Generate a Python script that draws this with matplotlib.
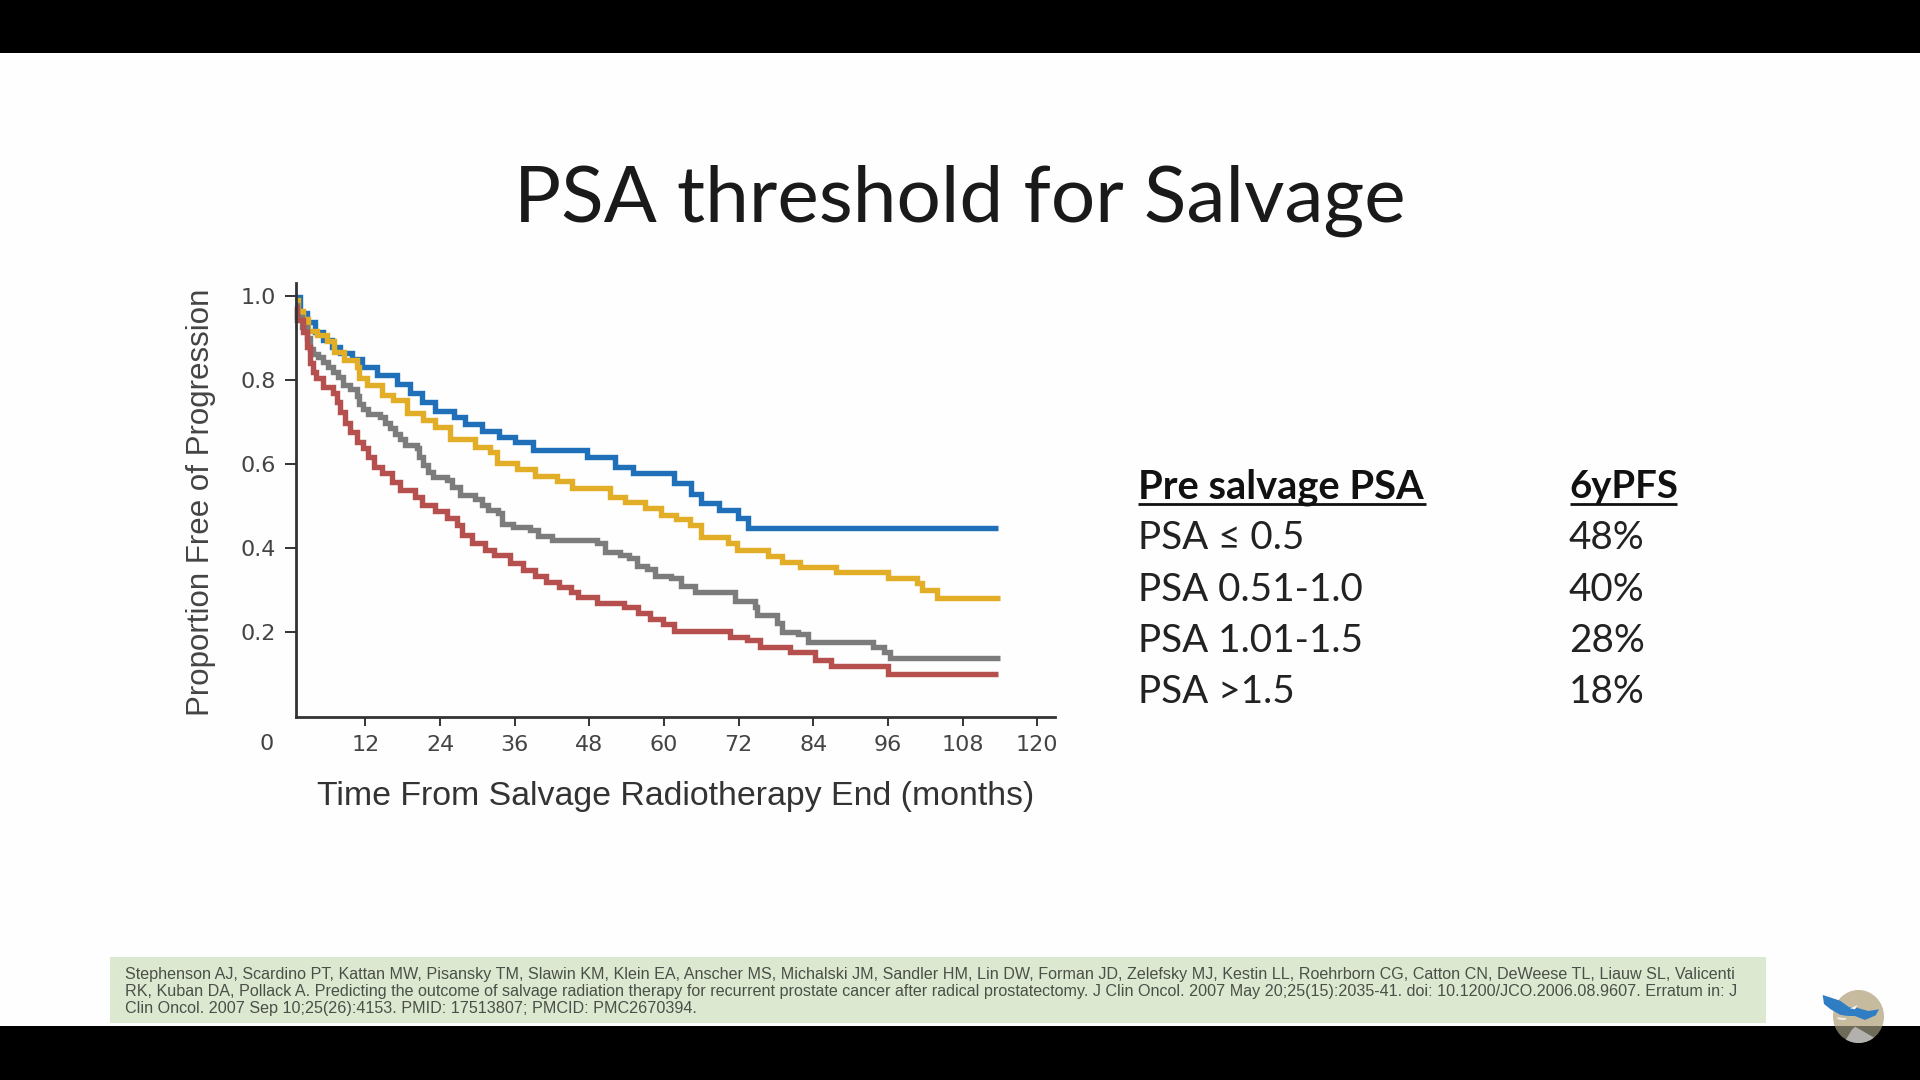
import matplotlib
matplotlib.use("Agg")
import matplotlib.pyplot as plt
from matplotlib.patches import Ellipse, Polygon, Rectangle

# ---------- data (months, proportion free of progression) ----------
blue_t = [0.7,1.5,2.6,3.9,5.25,6.6,7.9,9.8,11.4,13.8,17.1,19.2,21.1,23.2,26.2,28.0,30.7,33.4,36.1,38.9,47.6,52.1,55.07,61.6,64.3,65.95,68.9,71.95,73.45,113.75]
blue_v = [.998,.959,.939,.915,.895,.879,.865,.849,.830,.812,.790,.770,.748,.726,.713,.695,.679,.665,.653,.633,.617,.592,.578,.554,.529,.508,.491,.472,.447,.447]

yellow_t = [0.7,1.2,2.0,2.8,4.2,5.8,6.9,8.5,10.6,10.9,12.2,14.6,16.5,18.65,21.3,23.2,25.6,29.6,32.0,33.1,36.3,39.3,42.8,45.2,51.3,53.7,56.95,59.5,61.9,64.2,65.95,70.35,71.8,76.8,78.9,81.9,87.65,96.05,100.6,101.4,103.95,114.0]
yellow_v = [.99,.965,.945,.917,.906,.893,.866,.847,.832,.804,.788,.764,.752,.722,.705,.689,.659,.641,.628,.603,.589,.572,.560,.542,.522,.509,.495,.479,.469,.455,.427,.411,.395,.381,.367,.355,.344,.329,.316,.300,.280,.280]

grey_t = [0.7,1.07,1.77,2.57,3.1,3.64,4.45,5.25,6.06,6.86,7.66,8.36,9.54,10.6,10.99,11.68,12.49,14.36,15.17,15.97,16.77,17.58,18.38,20.26,20.69,21.33,22.13,22.94,25.08,25.88,27.22,29.64,30.71,31.78,33.39,33.92,35.8,38.48,39.82,41.96,49.2,50.54,52.9,54.3,55.6,57.2,58.55,61.2,62.8,65.0,71.4,74.6,74.9,78.1,78.9,81.6,83.2,93.65,95.3,96.3,114.0]
grey_v = [.979,.951,.927,.899,.875,.863,.854,.844,.832,.820,.808,.788,.778,.762,.743,.730,.719,.713,.698,.685,.671,.659,.645,.637,.617,.598,.582,.568,.562,.546,.526,.516,.502,.490,.483,.457,.449,.443,.429,.419,.411,.391,.383,.375,.356,.350,.333,.328,.310,.296,.274,.260,.240,.221,.201,.195,.177,.165,.152,.138,.138]

red_t = [0.7,1.07,2.04,2.66,3.1,3.54,4.07,5.25,6.75,7.4,7.93,8.74,9.54,10.6,11.68,12.49,13.3,14.63,16.24,17.6,20.0,21.06,23.2,25.08,26.7,27.5,29.1,31.2,32.6,35.2,37.3,39.3,41.1,43.2,45.0,46.2,49.2,53.5,55.9,57.75,59.9,61.6,70.6,73.3,75.4,80.25,84.3,86.8,96.05,113.75]
red_v = [.975,.943,.915,.879,.840,.820,.804,.784,.768,.748,.725,.697,.677,.653,.637,.617,.594,.578,.558,.538,.521,.502,.489,.471,.455,.431,.413,.395,.383,.364,.348,.333,.320,.308,.296,.283,.270,.259,.246,.230,.219,.202,.189,.181,.165,.152,.133,.118,.100,.100]

x_ticks = [12,24,36,48,60,72,84,96,108,120]
y_ticks = [0.2,0.4,0.6,0.8,1.0]

title = "PSA threshold for Salvage"
table_header = ["Pre salvage PSA", "6yPFS"]
table_psa = ["PSA \u2264 0.5", "PSA 0.51-1.0", "PSA 1.01-1.5", "PSA >1.5"]
table_pfs = ["48%", "40%", "28%", "18%"]
citation = [
 "Stephenson AJ, Scardino PT, Kattan MW, Pisansky TM, Slawin KM, Klein EA, Anscher MS, Michalski JM, Sandler HM, Lin DW, Forman JD, Zelefsky MJ, Kestin LL, Roehrborn CG, Catton CN, DeWeese TL, Liauw SL, Valicenti",
 "RK, Kuban DA, Pollack A. Predicting the outcome of salvage radiation therapy for recurrent prostate cancer after radical prostatectomy. J Clin Oncol. 2007 May 20;25(15):2035-41. doi: 10.1200/JCO.2006.08.9607. Erratum in: J",
 "Clin Oncol. 2007 Sep 10;25(26):4153. PMID: 17513807; PMCID: PMC2670394.",
]

W, H = 1920, 1080
fig = plt.figure(figsize=(W/100, H/100), dpi=100, facecolor="#FEFEFE")

# slide layer in pixel coordinates
bg = fig.add_axes([0, 0, 1, 1], zorder=0)
bg.set_xlim(0, W); bg.set_ylim(H, 0); bg.axis("off")
bg.add_patch(Rectangle((0, 0), W, 53, color="black", lw=0))
bg.add_patch(Rectangle((0, 1026), W, 54, color="black", lw=0))
bg.add_patch(Rectangle((110, 957), 1656, 66, color="#DCE9D0", lw=0))

bg.text(960, 222, title, family=["Lato", "DejaVu Sans"], fontsize=56.5,
        color="#1A1A1A", ha="center", va="baseline")

CAL = ["Lato", "DejaVu Sans"]
col_x = [1138, 1569]
bg.text(col_x[0], 498, table_header[0], family=CAL, fontweight="bold", fontsize=28.7, color="#111111", va="baseline")
bg.text(col_x[1], 498, table_header[1], family=CAL, fontweight="bold", fontsize=27.5, color="#111111", va="baseline")
bg.plot([1138, 1426], [503.5, 503.5], color="#111111", lw=2, solid_capstyle="butt")
bg.plot([1570, 1677], [503.5, 503.5], color="#111111", lw=2, solid_capstyle="butt")
for i, (a, b) in enumerate(zip(table_psa, table_pfs)):
    y = [549, 601, 652, 703][i]
    bg.text(col_x[0], y, a, family=CAL, fontsize=27.8, color="#222222", va="baseline")
    bg.text(col_x[1], y, b, family=CAL, fontsize=27.8, color="#222222", va="baseline")

for y, line in zip([974.5, 991.5, 1008], citation):
    bg.text(125, y, line, family="Liberation Sans", fontsize=11.6, color="#4A4F48", va="center")

# logo
cx, cy = 1858.5, 1016.5
clip_top = Rectangle((1800, 960), 120, 66, transform=bg.transData)
clip_low = Rectangle((1800, 1026), 120, 40, transform=bg.transData)
e1 = Ellipse((cx, cy), 51, 53, color="#C6BA9F", lw=0); bg.add_patch(e1); e1.set_clip_path(clip_top)
e2 = Ellipse((cx, cy), 51, 53, color="#6E6A58", lw=0); bg.add_patch(e2); e2.set_clip_path(clip_low)
Z = lambda pts: [(1810 + a/3, 980 + b/3) for a, b in pts]
mount = Polygon(Z([(95,200),(125,150),(135,140),(170,160),(205,180),(170,215),(110,215)]), color="#B3B1AD", lw=0)
bg.add_patch(mount)
mount.set_clip_path(Ellipse((cx, cy), 51, 53, transform=bg.transData))
bg.add_patch(Polygon(Z([(38,45),(60,52),(90,62),(118,82),(112,108),(90,104),(62,88),(42,72)]), color="#2F7DC2", lw=0))
bg.add_patch(Polygon(Z([(115,82),(140,83),(175,93),(207,88),(197,106),(165,120),(135,108),(112,108)]), color="#2F7DC2", lw=0))
bg.add_patch(Polygon(Z([(80,112),(110,115),(105,120),(85,118)]), color="#F2F2F2", lw=0))
bg.add_patch(Polygon(Z([(120,85),(143,75),(135,88)]), color="#F2F2F2", lw=0))

# main chart
L, R, T, B = 295.5, 1055.0, 283.0, 716.7
ax = fig.add_axes([L/W, 1-B/H, (R-L)/W, (B-T)/H], zorder=1)
ax.patch.set_alpha(0)
ax.set_xlim(0.76, 122.86)
ax.set_ylim(-0.0017, 1.031)
for s in ("top", "right"):
    ax.spines[s].set_visible(False)
for s in ("left", "bottom"):
    ax.spines[s].set_linewidth(2.0)
    ax.spines[s].set_color("#333333")

for t, v, c in [(blue_t, blue_v, "#1F70B8"), (yellow_t, yellow_v, "#E3AE27"),
                (grey_t, grey_v, "#7C7C7C"), (red_t, red_v, "#B5504F")]:
    ax.step(t, v, where="post", color=c, lw=3.9, solid_joinstyle="miter", solid_capstyle="butt", clip_on=False)

TICKF = dict(family="DejaVu Sans", fontsize=16, color="#444444")
ax.set_xticks(x_ticks)
ax.set_xticklabels([str(v) for v in x_ticks], **TICKF)
ax.set_yticks(y_ticks)
ax.set_yticklabels([f"{v:.1f}" for v in y_ticks], **TICKF)
ax.tick_params(axis="x", length=6.5, width=1.4, color="#333333", pad=6.5)
ax.tick_params(axis="y", length=8, width=1.4, color="#333333", pad=6)

bg.text(267, 744, "0", ha="center", va="center", **TICKF)
bg.text(676, 796.5, "Time From Salvage Radiotherapy End (months)", family="Liberation Sans",
        fontsize=24.4, color="#333333", ha="center", va="center")
bg.text(201.5, 502.5, "Proportion Free of Progression", family="Liberation Sans",
        fontsize=22.5, color="#444444", rotation=90, ha="center", va="center")

fig.savefig("out.png", dpi=100, facecolor=fig.get_facecolor())
